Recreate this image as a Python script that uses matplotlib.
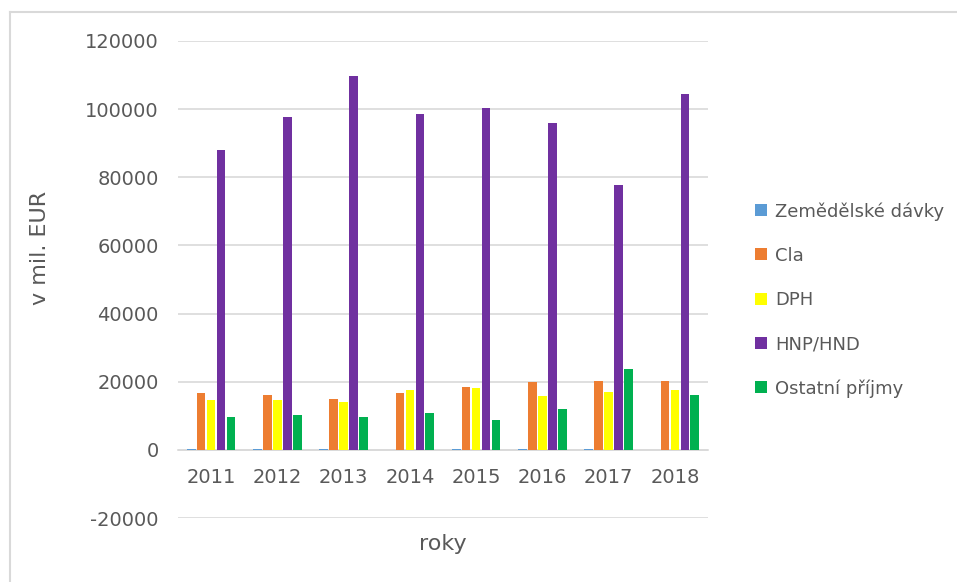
import numpy as np
import matplotlib.pyplot as plt
from matplotlib.lines import Line2D

years = ['2011', '2012', '2013', '2014', '2015', '2016', '2017', '2018']
series_names = ['Zemědělské dávky', 'Cla', 'DPH', 'HNP/HND', 'Ostatní příjmy']
zemedelske = [300, 300, 300, 0, 300, 300, 300, 0]
cla = [16600, 16100, 14900, 16700, 18400, 19900, 20200, 20200]
dph = [14600, 14600, 14100, 17600, 18200, 15800, 17000, 17600]
hnp = [88100, 97800, 109800, 98700, 100200, 96000, 77600, 104300]
ostatni = [9600, 10300, 9700, 10800, 8800, 12000, 23700, 16100]
colors = ['#5B9BD5', '#ED7D31', '#FFFF00', '#7030A0', '#00B050']

text_col = '#595959'
grid_col = '#D9D9D9'
plt.rcParams['font.family'] = ['DejaVu Sans']
plt.rcParams['axes.unicode_minus'] = False

fig = plt.figure(figsize=(9.57, 5.82), dpi=100)
ax = fig.add_axes([178/957, 1-518/582, 530/957, 477/582])

x = np.arange(len(years))
slot = 0.15
for i, (vals, name, c) in enumerate(zip([zemedelske, cla, dph, hnp, ostatni], series_names, colors)):
    ax.bar(x + (i - 2) * slot, vals, width=0.13, color=c, label=name, zorder=3)

ax.set_xlim(-0.5, len(years) - 0.5)
ax.set_ylim(-20000, 120000)
ax.set_yticks(range(-20000, 120001, 20000))
ax.yaxis.grid(True, color=grid_col, linewidth=1.2, zorder=0)
for s in ['top', 'right', 'left']:
    ax.spines[s].set_visible(False)
ax.spines['bottom'].set_position(('data', 0))
ax.spines['bottom'].set_color(grid_col)
ax.spines['bottom'].set_linewidth(1.2)
ax.set_xticks(x)
ax.set_xticklabels(years)
ax.tick_params(axis='both', length=0, labelsize=14, colors=text_col)
ax.tick_params(axis='y', pad=14)
ax.tick_params(axis='x', pad=13)

fig.text(40/957, 1-248/582, 'v mil. EUR', rotation=90, ha='center', va='center',
         fontsize=16, color=text_col)
fig.text(443/957, 1-544/582, 'roky', ha='center', va='center', fontsize=16, color=text_col)

leg = ax.legend(loc='upper left', bbox_to_anchor=(746/957, 1-193/582),
                bbox_transform=fig.transFigure, frameon=False, fontsize=13,
                handlelength=0.65, handleheight=0.65, handletextpad=0.45,
                labelspacing=1.45, borderpad=0)
for t in leg.get_texts():
    t.set_color(text_col)

# outer chart border (top and left visible)
fig.add_artist(Line2D([10/957, 1], [1-12/582, 1-12/582], color=grid_col, lw=1.5,
                      transform=fig.transFigure))
fig.add_artist(Line2D([10/957, 10/957], [0, 1-12/582], color=grid_col, lw=1.5,
                      transform=fig.transFigure))

fig.savefig('out.png', dpi=100)
